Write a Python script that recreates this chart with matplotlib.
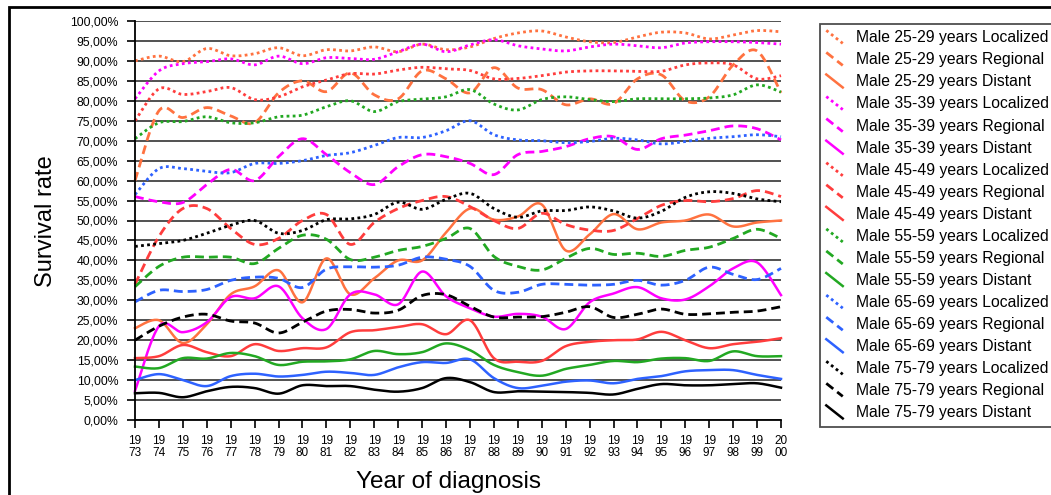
import numpy as np
import matplotlib
matplotlib.use("Agg")
from matplotlib import pyplot as plt
from matplotlib.lines import Line2D
from matplotlib.legend_handler import HandlerBase
from matplotlib.patches import Rectangle

plt.rcParams['font.family'] = ['Liberation Sans', 'DejaVu Sans']

years = list(range(1973, 2001))

m25_loc = [90, 91.2, 89.8, 93.1, 91.3, 91.8, 93.3, 91.3, 92.8, 92.5, 93.5, 92.3, 94.2, 92.8,
           93.5, 95.6, 97.0, 97.5, 96.0, 94.8, 94.6, 96.0, 97.2, 97.0, 95.5, 96.5, 97.6, 97.3]
m25_reg = [60, 77.5, 75.8, 78.3, 76.2, 74.5, 82, 85, 82.3, 87, 81.5, 80.5, 87.5, 85.5,
           82, 88.3, 83.2, 82.8, 79, 80.5, 79.3, 85.5, 86.5, 80, 81, 89, 92.5, 82]
m25_dist = [23, 25, 19.3, 24, 31.5, 33.5, 37.5, 29.5, 40.5, 31.5, 35.5, 40, 40, 47,
            53, 50.2, 51, 54, 42.5, 46.5, 51.6, 47.8, 49.5, 50, 51.5, 48.5, 49.5, 50]
m35_loc = [80.5, 87.5, 89.3, 89.8, 90.5, 89.0, 91.2, 89.3, 90.8, 90.6, 90.4, 92.3, 94.2, 92.3,
           94.0, 95.3, 93.8, 93.0, 92.5, 93.5, 94.2, 93.8, 93.3, 94.5, 94.8, 94.8, 94.6, 94.2]
m35_reg = [56, 54.7, 54.5, 59, 62.8, 60, 66, 70.5, 66.5, 62, 59, 63.5, 66.5, 66,
           64.3, 61.5, 66.5, 67.3, 68.5, 70.5, 71, 67.8, 70.5, 71.4, 72.5, 73.7, 73, 70.2]
m35_dist = [7.3, 23.5, 22, 24.5, 30.8, 30.5, 33.5, 25.5, 22.8, 31.5, 31.5, 29, 37.2, 31,
            28, 25.9, 26.6, 25.9, 22.8, 29.5, 31.7, 33.3, 30.5, 30.2, 33.5, 38, 39.5, 31.3]
m45_loc = [75, 83, 81.6, 82.3, 83.3, 80.3, 81, 83.5, 85.2, 86.8, 86.7, 87.7, 88.4, 88.0,
           87.6, 85.5, 85.6, 86.3, 87.2, 87.5, 87.5, 87.4, 87.4, 89.0, 89.5, 89.0, 85.5, 86.3]
m45_reg = [34, 46, 53, 53, 48, 44, 45.5, 50, 51.5, 44, 49.5, 53, 55, 56,
           53.5, 50, 48, 51.8, 49, 47.6, 47.5, 50.5, 53.8, 55, 54.7, 55.5, 57.5, 56]
m45_dist = [15.5, 16, 18.8, 17, 16, 19, 17.3, 18, 18.2, 22, 22.5, 23.3, 24, 21.5,
            25, 15.5, 14.6, 14.8, 18.5, 19.6, 20, 20.2, 22.1, 20, 18, 19, 19.6, 20.5]
m55_loc = [70.5, 74.5, 74.8, 76, 74.5, 74.5, 76, 76.4, 78.5, 80, 77.3, 79.8, 80.4, 81,
           82.8, 79.2, 77.7, 80.3, 81, 80.3, 79.8, 80.5, 80.5, 80.5, 80.7, 81.5, 84, 82.2]
m55_reg = [33.4, 38.5, 40.8, 40.8, 40.8, 39.2, 43, 46.3, 45.3, 40.2, 40.8, 42.5, 43.5, 45.5,
           48, 41, 38.5, 37.6, 40.5, 43, 41.5, 41.8, 41, 42.5, 43.3, 45.5, 47.8, 45.5]
m55_dist = [13.4, 13, 15.5, 15.4, 16.8, 16, 13.8, 14.6, 14.7, 15.2, 17.3, 16.5, 17, 19.2,
            17.5, 13.8, 12, 11.1, 12.8, 13.8, 14.8, 14.5, 15.4, 15.5, 14.8, 17.2, 16, 16]
m65_loc = [56.5, 63, 63, 62.3, 62, 64.3, 64.3, 65, 66.3, 67, 68.8, 70.8, 70.8, 72.5,
           75, 71.5, 70.2, 70, 69.5, 69.8, 70.6, 70.2, 69.2, 69.8, 70.6, 71, 71.5, 71]
m65_reg = [29.6, 32.5, 32.2, 32.7, 35, 35.8, 35.5, 33.2, 37.8, 38.4, 38.3, 38.8, 40.8, 40.3,
           38.5, 32.5, 32, 34, 34, 33.8, 34, 35, 33.8, 35, 38.3, 36.5, 35.2, 38]
m65_dist = [10, 11.5, 10, 8.5, 11, 11.6, 10.9, 11.3, 12.1, 11.8, 11.3, 13.2, 14.5, 14.3,
            15.2, 10.5, 8, 8.6, 9.6, 9.9, 9.2, 10.3, 11, 12.2, 12.5, 12.5, 11.3, 10.3]
m75_loc = [43.5, 44.2, 45, 46.8, 48.8, 50, 46.8, 47.5, 50.2, 50.4, 51.5, 54.6, 52.8, 55.3,
           56.8, 53, 50.8, 52.4, 52.5, 53.4, 52.4, 50.6, 52.3, 55.8, 57.2, 56.8, 55.4, 54.7]
m75_reg = [20, 23.5, 25.8, 26.5, 24.8, 24.3, 21.8, 24.5, 27.3, 27.7, 26.8, 27.5, 31.2, 31.4,
           28.5, 25.8, 25.8, 25.9, 27, 28.4, 25.7, 26.5, 27.8, 26.5, 26.6, 27, 27.3, 28.4]
m75_dist = [6.7, 6.8, 5.7, 7.2, 8.3, 8, 6.6, 8.7, 8.5, 8.5, 7.6, 7.1, 8, 10.5,
            9.5, 7, 7.2, 7.1, 7, 6.8, 6.4, 7.8, 9, 8.7, 8.7, 9, 9.2, 8.1]

ages = ['25-29', '35-39', '45-49', '55-59', '65-69', '75-79']
stages = ['Localized', 'Regional', 'Distant']
series = [m25_loc, m25_reg, m25_dist, m35_loc, m35_reg, m35_dist,
          m45_loc, m45_reg, m45_dist, m55_loc, m55_reg, m55_dist,
          m65_loc, m65_reg, m65_dist, m75_loc, m75_reg, m75_dist]

age_colors = ['#FF7240', '#FF00FF', '#FF3D3D', '#22A822', '#2E62FF', '#000000']
stage_styles = [((0, (1, 1.2)), 2.0), ((0, (3.2, 1.8)), 2.0), ('-', 1.8)]


def smooth(xs, ys, n=24):
    # excel-like smoothed line: bezier with catmull-rom control points
    p = np.column_stack([np.asarray(xs, float), np.asarray(ys, float)])
    pe = np.vstack([p[0], p, p[-1]])
    t = np.linspace(0, 1, n, endpoint=False)[:, None]
    out = []
    for i in range(len(p) - 1):
        p0, p3 = pe[i + 1], pe[i + 2]
        c1 = p0 + (pe[i + 2] - pe[i]) / 6
        c2 = p3 - (pe[i + 3] - pe[i + 1]) / 6
        out.append((1 - t) ** 3 * p0 + 3 * (1 - t) ** 2 * t * c1 + 3 * (1 - t) * t ** 2 * c2 + t ** 3 * p3)
    out.append(p[-1:])
    arr = np.vstack(out)
    return arr[:, 0], arr[:, 1]


class DiagHandler(HandlerBase):
    def create_artists(self, legend, orig, xdescent, ydescent, width, height, fontsize, trans):
        line = Line2D([0, 1], [0, 1])
        line.update_from(orig)
        line.set_data([-xdescent, -xdescent + width], [-ydescent + height, -ydescent])
        line.set_transform(trans)
        return [line]


fig = plt.figure(figsize=(10.51, 4.95), dpi=100)
ax = fig.add_axes([135 / 1051, 75 / 495, 646 / 1051, 399 / 495])

handles = []
for k, vals in enumerate(series):
    age = ages[k // 3]
    stage = stages[k % 3]
    ls, lw = stage_styles[k % 3]
    sx, sy = smooth(years, vals)
    ln, = ax.plot(sx, sy, color=age_colors[k // 3], linestyle=ls, lw=lw,
                  label=f"Male {age} years {stage}", clip_on=False)
    handles.append(ln)

ax.set_xlim(1973, 2000)
ax.set_ylim(0, 100)
ax.set_yticks(range(0, 101, 5))
ax.set_yticklabels([f"{v:.2f}%".replace('.', ',') for v in range(0, 101, 5)], fontsize=8.8)
ax.set_xticks(years)
ax.set_xticklabels([f"{str(y)[:2]}\n{str(y)[2:]}" for y in years], fontsize=8.5, linespacing=1.0)
ax.tick_params(axis='y', direction='out', length=5.5, width=1.2, pad=6.5)
ax.tick_params(axis='x', direction='out', length=5.5, width=1.2, pad=5)
ax.yaxis.grid(True, color='#222222', lw=1.1)
ax.set_axisbelow(True)
for s in ['top', 'right']:
    ax.spines[s].set_visible(False)
for s in ['left', 'bottom']:
    ax.spines[s].set_linewidth(1.3)

fig.text(46 / 1051, 1 - 221 / 495, 'Survival rate', rotation=90, ha='center', va='center', fontsize=17)
fig.text(448 / 1051, 1 - 488 / 495, 'Year of diagnosis', ha='center', va='baseline', fontsize=17.5)

leg = fig.legend(handles=handles, loc='upper left', bbox_to_anchor=(820 / 1051, 1 - 24 / 495),
                 borderaxespad=0, fontsize=11.3, handlelength=1.05, handleheight=0.9,
                 handletextpad=0.85, labelspacing=0.45, borderpad=0.4, fancybox=False,
                 frameon=True, handler_map={Line2D: DiagHandler()})
leg.get_frame().set_edgecolor('#222222')
leg.get_frame().set_linewidth(1.3)

fig.patches.append(Rectangle((9 / 1051, -0.2), 1.2, 1.2 - 7 / 495, transform=fig.transFigure,
                             fill=False, edgecolor='black', lw=2.0, clip_on=False))

fig.savefig('out.png', dpi=100)
